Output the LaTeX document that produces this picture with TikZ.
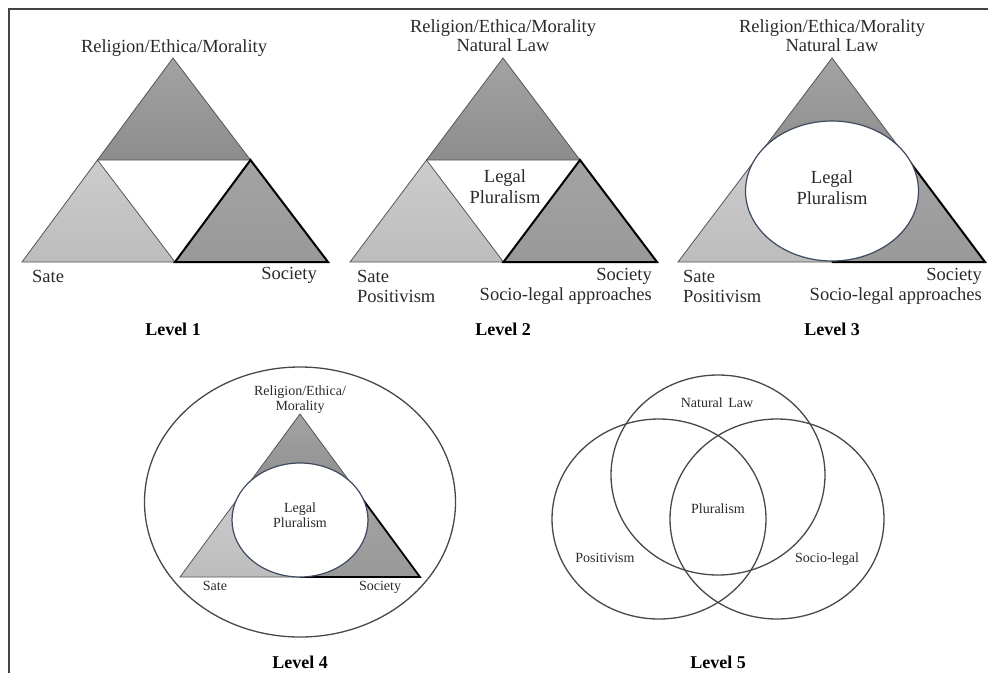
\documentclass[tikz,border=0pt]{standalone}
\usepackage{fontspec}
\usetikzlibrary{calc}
\setmainfont{Liberation Serif}
\definecolor{frameC}{HTML}{444444}
\definecolor{edgeC}{HTML}{555555}
\definecolor{ellC}{HTML}{3E4A5E}
\definecolor{circC}{HTML}{484848}
\definecolor{txtC}{HTML}{2A2A2A}
\tikzset{
  big/.style={font=\fontsize{18.5}{20}\selectfont, text=txtC, inner sep=0pt, anchor=base},
  small/.style={font=\fontsize{14}{15}\selectfont, text=txtC, inner sep=0pt, anchor=base},
  lvl/.style={font=\fontsize{18}{20}\selectfont\bfseries, inner sep=0pt, anchor=base},
  topshade/.style={top color=black!36, bottom color=black!45},
  leftshade/.style={top color=black!20, bottom color=black!26},
  rightshade/.style={top color=black!36, bottom color=black!40},
  thinedge/.style={draw=edgeC, line width=0.8pt, line join=miter},
  thickedge/.style={draw=black, line width=2pt, line join=miter},
  ellline/.style={draw=ellC, line width=1.2pt, fill=white},
  circline/.style={draw=circC, line width=1.3pt},
}
\begin{document}
\begin{tikzpicture}[x=1pt,y=-1pt]
\useasboundingbox (0,0) rectangle (992,672);
% frame
\draw[frameC, line width=2.5pt] (9,673) -- (9,9) -- (988,9);

% ---------- Level 1 ----------
\coordinate (a1) at (173,58);
\coordinate (l1) at (22,262);
\coordinate (r1) at (328,262);
\coordinate (ml1) at ($(a1)!0.5!(l1)$);
\coordinate (mr1) at ($(a1)!0.5!(r1)$);
\coordinate (mb1) at ($(l1)!0.5!(r1)$);
\shade[topshade] (a1) -- (ml1) -- (mr1) -- cycle;
\draw[thinedge] (a1) -- (ml1) -- (mr1) -- cycle;
\shade[leftshade] (ml1) -- (l1) -- (mb1) -- cycle;
\draw[thinedge] (ml1) -- (l1) -- (mb1) -- cycle;
\shade[rightshade] (mr1) -- (mb1) -- (r1) -- cycle;
\draw[thickedge] (mr1) -- (mb1) -- (r1) -- cycle;
\node[big] (rel1) at (174,52) {Religion/Ethica/Morality};
\node[big, anchor=base west] (sate1) at (32,282) {Sate};
\node[big, anchor=base east] (soc1) at (317,279) {Society};
\node[lvl] (lev1) at (173,335) {Level 1};

% ---------- Level 2 ----------
\coordinate (a2) at (503,58);
\coordinate (l2) at (350,262);
\coordinate (r2) at (657,262);
\coordinate (ml2) at ($(a2)!0.5!(l2)$);
\coordinate (mr2) at ($(a2)!0.5!(r2)$);
\coordinate (mb2) at ($(l2)!0.5!(r2)$);
\shade[topshade] (a2) -- (ml2) -- (mr2) -- cycle;
\draw[thinedge] (a2) -- (ml2) -- (mr2) -- cycle;
\shade[leftshade] (ml2) -- (l2) -- (mb2) -- cycle;
\draw[thinedge] (ml2) -- (l2) -- (mb2) -- cycle;
\shade[rightshade] (mr2) -- (mb2) -- (r2) -- cycle;
\draw[thickedge] (mr2) -- (mb2) -- (r2) -- cycle;
\node[big] (rel2) at (503,32) {Religion/Ethica/Morality};
\node[big] (nat2) at (503,51) {Natural Law};
\node[big] (leg2) at (505,182) {Legal};
\node[big] (plu2) at (505,203) {Pluralism};
\node[big, anchor=base west] (sate2) at (357,282) {Sate};
\node[big, anchor=base west] (pos2) at (357,302) {Positivism};
\node[big, anchor=base east] (soc2) at (652,280) {Society};
\node[big, anchor=base east] (sla2) at (652,300) {Socio-legal approaches};
\node[lvl] (lev2) at (503,335) {Level 2};

% ---------- Level 3 ----------
\coordinate (a3) at (832,58);
\coordinate (l3) at (678,262);
\coordinate (r3) at (985,262);
\coordinate (ml3) at ($(a3)!0.5!(l3)$);
\coordinate (mr3) at ($(a3)!0.5!(r3)$);
\coordinate (mb3) at ($(l3)!0.5!(r3)$);
\shade[topshade] (a3) -- (ml3) -- (mr3) -- cycle;
\shade[leftshade] (ml3) -- (l3) -- (mb3) -- cycle;
\shade[rightshade] (mr3) -- (mb3) -- (r3) -- cycle;
\draw[thinedge] (mr3) -- (a3) -- (l3) -- (mb3);
\draw[thickedge] (mr3) -- (r3) -- (mb3);
\draw[ellline] (832,191) ellipse [x radius=86.5, y radius=70];
\node[big] (rel3) at (832,32) {Religion/Ethica/Morality};
\node[big] (nat3) at (832,51) {Natural Law};
\node[big] (leg3) at (832,183) {Legal};
\node[big] (plu3) at (832,204) {Pluralism};
\node[big, anchor=base west] (sate3) at (683,282) {Sate};
\node[big, anchor=base west] (pos3) at (683,302) {Positivism};
\node[big, anchor=base east] (soc3) at (982,280) {Society};
\node[big, anchor=base east] (sla3) at (982,300) {Socio-legal approaches};
\node[lvl] (lev3) at (832,335) {Level 3};

% ---------- Level 4 ----------
\draw[circline] (300,502) ellipse [x radius=155.5, y radius=135];
\coordinate (a4) at (300,414);
\coordinate (l4) at (180,577);
\coordinate (r4) at (420,577);
\coordinate (ml4) at ($(a4)!0.5!(l4)$);
\coordinate (mr4) at ($(a4)!0.5!(r4)$);
\coordinate (mb4) at ($(l4)!0.5!(r4)$);
\shade[topshade] (a4) -- (ml4) -- (mr4) -- cycle;
\shade[leftshade] (ml4) -- (l4) -- (mb4) -- cycle;
\shade[rightshade] (mr4) -- (mb4) -- (r4) -- cycle;
\draw[thinedge] (mr4) -- (a4) -- (l4) -- (mb4);
\draw[thickedge, line width=1.8pt] (mr4) -- (r4) -- (mb4);
\draw[ellline] (300,520) ellipse [x radius=68, y radius=57];
\node[small] (rel4) at (300,395) {Religion/Ethica/};
\node[small] (mor4) at (300,410) {Morality};
\node[small] (leg4) at (300,512) {Legal};
\node[small] (plu4) at (300,527) {Pluralism};
\node[small] (sate4) at (215,590) {Sate};
\node[small] (soc4) at (380,590) {Society};
\node[lvl] (lev4) at (300,668) {Level 4};

% ---------- Level 5 ----------
\draw[circline] (718,475) ellipse [x radius=107, y radius=100];
\draw[circline] (659,519) ellipse [x radius=107, y radius=100];
\draw[circline] (777,519) ellipse [x radius=107, y radius=100];
\node[small] (nat5) at (717,407) {Natural\hspace{0.4em}Law};
\node[small] (plu5) at (718,513) {Pluralism};
\node[small] (pos5) at (605,562) {Positivism};
\node[small] (soc5) at (827,562) {Socio-legal};
\node[lvl] (lev5) at (718,668) {Level 5};
\end{tikzpicture}
\end{document}
